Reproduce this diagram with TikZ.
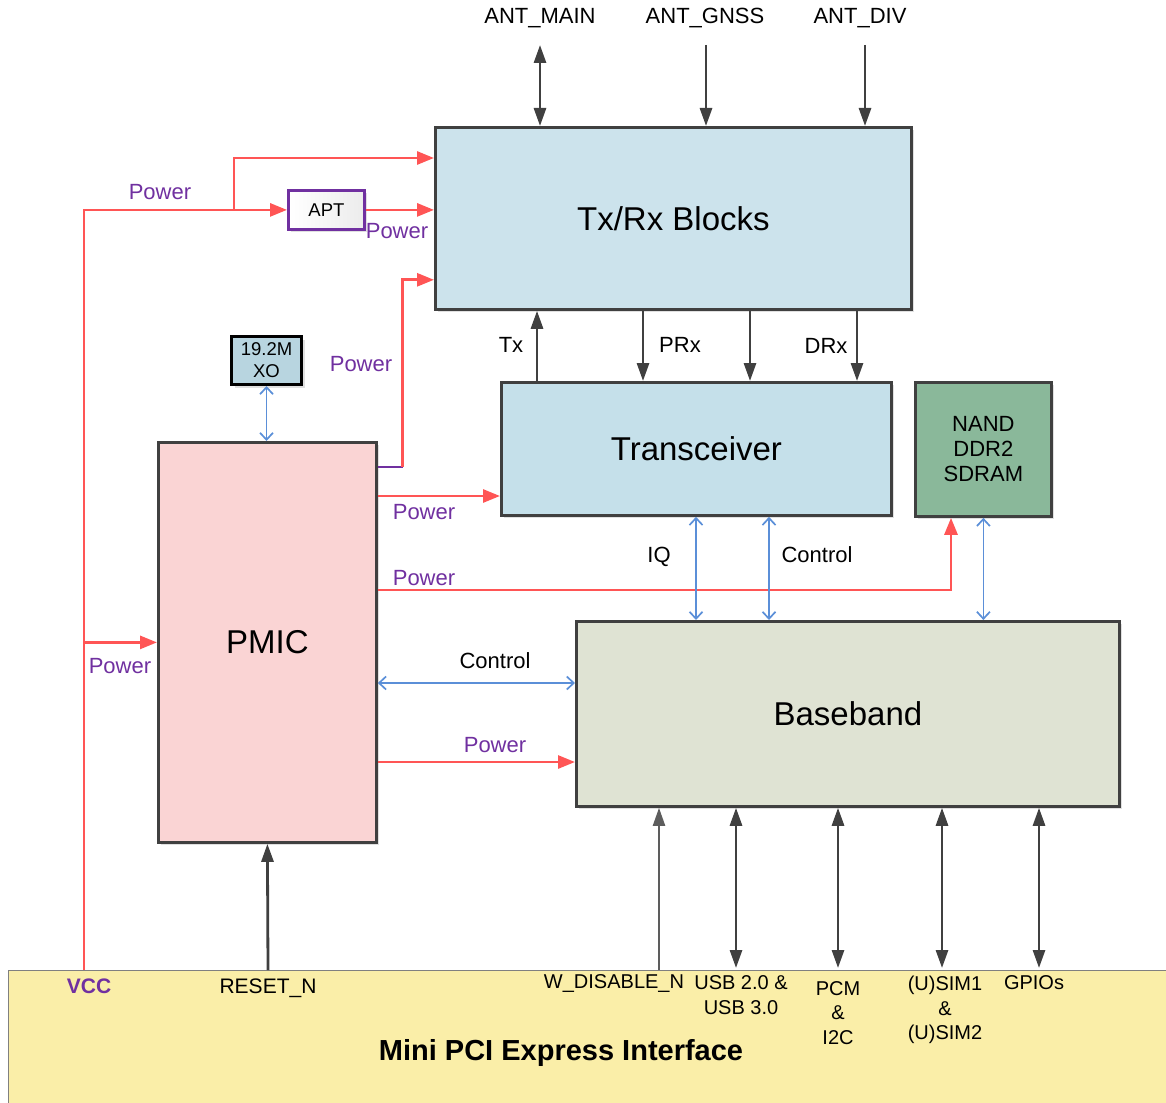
\documentclass[tikz,border=0pt]{standalone}
\usepackage{fontspec}
\setmainfont{Liberation Sans}
\usetikzlibrary{arrows.meta,calc,shadows}
\definecolor{boxline}{HTML}{404040}
\definecolor{txrxfill}{HTML}{CCE3EC}
\definecolor{trcvfill}{HTML}{C5E0EA}
\definecolor{nandfill}{HTML}{8AB89A}
\definecolor{pmicfill}{HTML}{FAD4D4}
\definecolor{bbfill}{HTML}{DFE3D3}
\definecolor{xofill}{HTML}{B8D5E0}
\definecolor{pciefill}{HTML}{FAEEA8}
\definecolor{pwr}{HTML}{FF5555}
\definecolor{pwrtext}{HTML}{7030A0}
\definecolor{ctl}{HTML}{5B8FD8}
\definecolor{sig}{HTML}{404040}
\tikzset{
  boxshadow/.style={drop shadow={shadow xshift=3pt, shadow yshift=-3pt, fill=black, opacity=0.12}},
  block/.style={draw=boxline, line width=2.8pt, inner sep=0pt, anchor=north west, align=center,
    boxshadow, font=\fontsize{33}{38}\selectfont},
  smallblock/.style={line width=2.8pt, inner sep=0pt, anchor=north west, align=center, boxshadow},
  pwrarrow/.style={draw=pwr, line width=2.8pt, -{Triangle[length=17pt,width=13pt]}},
  plabel/.style={text=pwrtext, inner sep=0pt, font=\fontsize{22}{26}\selectfont},
  lab/.style={inner sep=0pt, font=\fontsize{22}{26}\selectfont},
  blab/.style={inner sep=0pt, align=center, font=\fontsize{20}{24.5}\selectfont},
  sigarrow/.style={draw=sig, line width=2.8pt, -{Triangle[length=18pt,width=12pt]}},
  sigboth/.style={draw=sig, line width=2.8pt, {Triangle[length=18pt,width=12pt]}-{Triangle[length=18pt,width=12pt]}},
  ctlboth/.style={draw=ctl, line width=1.7pt, {Straight Barb[length=7pt,width=13pt]}-{Straight Barb[length=7pt,width=13pt]}},
}
\begin{document}
\begin{tikzpicture}[x=1pt,y=-1pt]
\useasboundingbox (0,0) rectangle (1166,1102);
% interface bar
\node[draw=gray, line width=1pt, fill=pciefill, anchor=north west, minimum width=1170pt, minimum height=140pt, inner sep=0pt] (pcie) at (8,970) {};
\node[inner sep=0pt, font=\bfseries\fontsize{29}{34}\selectfont] (pcietitle) at (561,1053) {Mini PCI Express Interface};
% blocks
\node[block, fill=txrxfill, minimum width=476pt, minimum height=182pt] (txrx) at (434,126) {Tx/Rx Blocks};
\node[block, fill=trcvfill, minimum width=390pt, minimum height=133pt] (trcv) at (500,381) {Transceiver};
\node[block, fill=nandfill, minimum width=136pt, minimum height=134pt, font=\fontsize{22}{25}\selectfont] (nand) at (914,381) {NAND\\DDR2\\SDRAM};
\node[block, fill=pmicfill, minimum width=218pt, minimum height=400pt] (pmic) at (157,441) {PMIC};
\node[block, fill=bbfill, minimum width=543pt, minimum height=185pt] (bb) at (575,620) {Baseband};
\node[smallblock, draw=black, line width=3pt, fill=xofill, minimum width=70pt, minimum height=48pt, font=\fontsize{18.5}{22}\selectfont] (xo) at (230,335) {19.2M\\XO};
\node[smallblock, draw=pwrtext, left color=white, right color=gray!15, minimum width=76pt, minimum height=39pt, font=\fontsize{18.5}{22}\selectfont] (apt) at (287,189) {APT};
% antenna labels
\node[lab] (antm) at (540,18) {ANT\_MAIN};
\node[lab] (antg) at (705,18) {ANT\_GNSS};
\node[lab] (antd) at (860,18) {ANT\_DIV};
\coordinate (antmend) at (540,45);
\coordinate (antgend) at (706,45);
\coordinate (antdend) at (865,45);
\draw[sigboth] (antmend) -- (antmend |- txrx.north);
\draw[sigarrow] (antgend) -- (antgend |- txrx.north);
\draw[sigarrow] (antdend) -- (antdend |- txrx.north);
% Tx / Rx between blocks
\coordinate (txp) at ([xshift=37pt]trcv.north west);
\coordinate (prxp) at ([xshift=209pt]txrx.south west);
\coordinate (mrxp) at ([xshift=316pt]txrx.south west);
\coordinate (drxp) at ([xshift=423pt]txrx.south west);
\draw[sigarrow] (txp) -- (txp |- txrx.south);
\draw[sigarrow] (prxp) -- (prxp |- trcv.north);
\draw[sigarrow] (mrxp) -- (mrxp |- trcv.north);
\draw[sigarrow] (drxp) -- (drxp |- trcv.north);
\node[lab] (txl) at (511,345) {Tx};
\node[lab] (prxl) at (680,345) {PRx};
\node[lab] (drxl) at (826,346) {DRx};
% power network
\coordinate (vcc) at ([xshift=76pt]pcie.north west);
\draw[pwrarrow] (vcc) |- (apt.west);
\draw[pwrarrow] (vcc |- pmic.west) -- (pmic.west);
\coordinate (br) at (234,208.5);
\draw[pwrarrow] (br) |- ([yshift=-32pt]txrx.north west);
\draw[pwrarrow] (apt.east) -- (apt.east -| txrx.west);
\coordinate (pk0) at ([yshift=-26pt]pmic.north east);
\coordinate (pk) at ([xshift=25pt]pk0);
\draw[draw=pwrtext, line width=2.8pt] (pk0) -- (pk);
\draw[pwrarrow] (pk) |- ([yshift=31pt]txrx.south west);
\coordinate (trp) at ([yshift=-115pt]trcv.north west);
\draw[pwrarrow] (pmic.east |- trp) -- (trp);
\coordinate (nandp) at ([xshift=37pt]nand.south west);
\draw[pwrarrow] ([yshift=-149pt]pmic.north east) -| (nandp);
\coordinate (bbp) at ([yshift=-142pt]bb.north west);
\draw[pwrarrow] (pmic.east |- bbp) -- (bbp);
\node[plabel] (p1) at (160,192) {Power};
\node[plabel] (p2) at (397,231) {Power};
\node[plabel] (p3) at (361,364) {Power};
\node[plabel] (p4) at (424,512) {Power};
\node[plabel] (p5) at (424,578) {Power};
\node[plabel] (p6) at (120,666) {Power};
\node[plabel] (p7) at (495,745) {Power};
% control links
\draw[ctlboth] (xo.south) -- (xo.south |- pmic.north);
\coordinate (iqp) at ([xshift=196pt]trcv.south west);
\coordinate (ctp) at ([xshift=269pt]trcv.south west);
\draw[ctlboth] (iqp) -- (iqp |- bb.north);
\draw[ctlboth] (ctp) -- (ctp |- bb.north);
\draw[ctlboth] (nand.south) -- (nand.south |- bb.north);
\coordinate (pbc) at ([yshift=-63pt]bb.north west);
\draw[ctlboth] (pmic.east |- pbc) -- (pbc);
\node[lab] (iql) at (659,557) {IQ};
\node[lab] (ctl1) at (817,555) {Control};
\node[lab] (ctl2) at (495,661) {Control};
% bottom signals
\coordinate (rst) at ([xshift=260pt]pcie.north west);
\draw[sigarrow] (rst) -- (pmic.south);
\coordinate (wdis) at ([xshift=651pt]pcie.north west);
\draw[draw=sig!85, line width=2.2pt, -{Triangle[length=18pt,width=12pt]}] (wdis) -- (wdis |- bb.south);
\coordinate (usbp) at ([xshift=728pt,yshift=2pt]pcie.north west);
\coordinate (pcmp) at ([xshift=830pt,yshift=2pt]pcie.north west);
\coordinate (simp) at ([xshift=934pt,yshift=2pt]pcie.north west);
\coordinate (gpiop) at ([xshift=1031pt,yshift=2pt]pcie.north west);
\draw[sigboth] (usbp |- bb.south) -- (usbp);
\draw[sigboth] (pcmp |- bb.south) -- (pcmp);
\draw[sigboth] (simp |- bb.south) -- (simp);
\draw[sigboth] (gpiop |- bb.south) -- (gpiop);
\node[inner sep=0pt, text=pwrtext, font=\bfseries\fontsize{21}{25}\selectfont] (vccl) at (89,986) {VCC};
\node[blab, font=\fontsize{21}{25}\selectfont] (rstl) at (268,988) {RESET\_N};
\node[blab] (wdisl) at (614,983) {W\_DISABLE\_N};
\node[blab] (usbl) at (741,995) {USB 2.0 \&\\USB 3.0};
\node[blab] (pcml) at (838,1013) {PCM\\\&\\I2C};
\node[blab] (siml) at (945,1010) {(U)SIM1\\\&\\(U)SIM2};
\node[blab] (gpiol) at (1034,983) {GPIOs};
\end{tikzpicture}
\end{document}
